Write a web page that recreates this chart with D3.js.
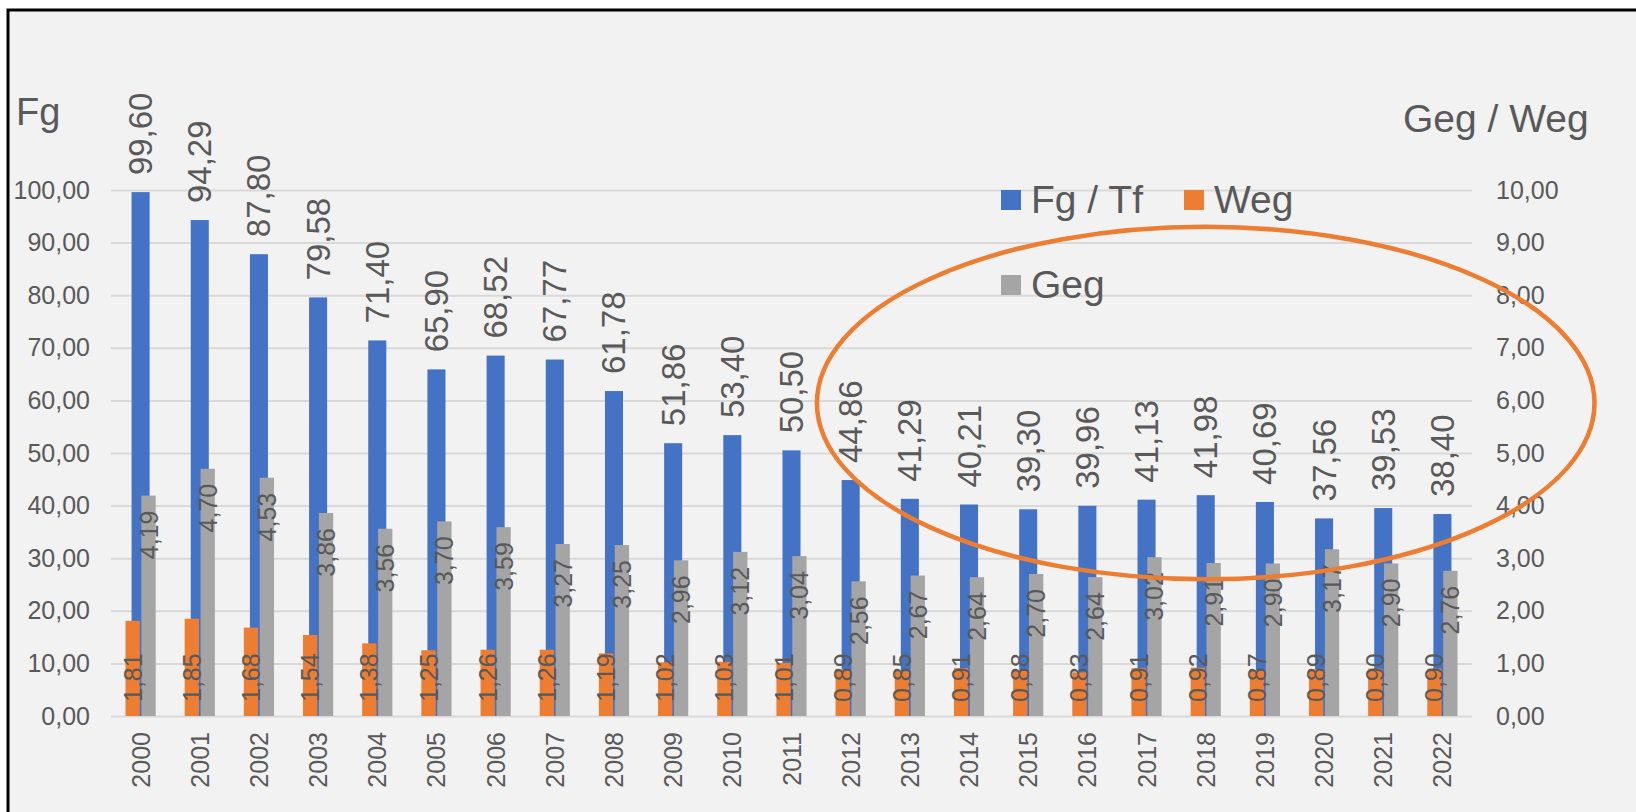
<!DOCTYPE html>
<html>
<head>
<meta charset="utf-8">
<script src="https://cdn.jsdelivr.net/npm/d3@7"></script>
<style>
  html, body { margin: 0; padding: 0; background: #ffffff; overflow: hidden; }
  text { font-family: 'Liberation Sans', Arial, sans-serif; fill: #595959; }
</style>
</head>
<body>
<div id="wrapper"></div>
<script>
// chart data
const years = ['2000', '2001', '2002', '2003', '2004', '2005', '2006', '2007', '2008', '2009', '2010', '2011',
  '2012', '2013', '2014', '2015', '2016', '2017', '2018', '2019', '2020', '2021', '2022']
const fgTf = [99.60, 94.29, 87.80, 79.58, 71.40, 65.90, 68.52, 67.77, 61.78, 51.86, 53.40, 50.50,
  44.86, 41.29, 40.21, 39.30, 39.96, 41.13, 41.98, 40.69, 37.56, 39.53, 38.40]
const weg = [1.81, 1.85, 1.68, 1.54, 1.38, 1.25, 1.26, 1.26, 1.19, 1.02, 1.03, 1.01,
  0.89, 0.85, 0.91, 0.88, 0.83, 0.91, 0.92, 0.87, 0.89, 0.90, 0.90]
const geg = [4.19, 4.70, 4.53, 3.86, 3.56, 3.70, 3.59, 3.27, 3.25, 2.96, 3.12, 3.04,
  2.56, 2.67, 2.64, 2.70, 2.64, 3.02, 2.91, 2.90, 3.17, 2.90, 2.76]
const leftTicks = [0, 10, 20, 30, 40, 50, 60, 70, 80, 90, 100]
const rightTicks = [0, 1, 2, 3, 4, 5, 6, 7, 8, 9, 10]
const legendItems = ['Fg / Tf', 'Weg', 'Geg']

function drawChart() {
  const colors = { fg: '#4472c4', weg: '#ed7d31', geg: '#a5a5a5', grid: '#d9d9d9' }

  let dimensions = {
    width: 1636,
    height: 812,
    margin: { top: 190, right: 164, bottom: 96, left: 111 },
  }
  dimensions.boundedWidth = dimensions.width - dimensions.margin.left - dimensions.margin.right
  dimensions.boundedHeight = dimensions.height - dimensions.margin.top - dimensions.margin.bottom

  // german number format: decimal comma
  const locale = d3.formatLocale({ decimal: ',', thousands: '.', grouping: [3], currency: ['', ' €'] })
  const fmt = locale.format('.2f')

  const wrapper = d3.select('#wrapper')
    .append('svg')
    .attr('width', dimensions.width)
    .attr('height', dimensions.height)

  // frame (black edge only on top and left, the rest is cropped away)
  wrapper.append('rect')
    .attr('x', 8).attr('y', 10)
    .attr('width', dimensions.width + 20).attr('height', dimensions.height + 20)
    .attr('fill', '#f2f2f2')
    .attr('stroke', '#000').attr('stroke-width', 3)

  const bounds = wrapper.append('g')
    .attr('transform', `translate(${dimensions.margin.left}, ${dimensions.margin.top})`)

  const xScale = d3.scaleBand()
    .domain(years)
    .range([0, dimensions.boundedWidth])

  const yScale = d3.scaleLinear()
    .domain([0, 100])
    .range([dimensions.boundedHeight, 0])

  const y2Scale = d3.scaleLinear()
    .domain([0, 10])
    .range([dimensions.boundedHeight, 0])

  const bw = xScale.bandwidth()
  const blueWidth = bw * 0.305
  // secondary series sit side by side around the category centre
  const subScale = d3.scaleBand()
    .domain(['weg', 'geg'])
    .range([-bw * 0.255, bw * 0.255])
    .paddingInner(0.1)
  const center = (i) => xScale(years[i]) + bw / 2

  // gridlines + left axis
  const yAxisGenerator = d3.axisLeft(yScale)
    .tickValues(leftTicks)
    .tickSize(-dimensions.boundedWidth)
    .tickPadding(21)
    .tickFormat(fmt)
  const yAxis = bounds.append('g').call(yAxisGenerator)
  yAxis.select('.domain').remove()
  yAxis.selectAll('line').attr('stroke', colors.grid).attr('stroke-width', 2)
  yAxis.selectAll('text').attr('font-size', 25).style('fill', '#595959')

  // right axis
  const y2AxisGenerator = d3.axisRight(y2Scale)
    .tickValues(rightTicks)
    .tickSize(0)
    .tickPadding(24)
    .tickFormat(fmt)
  const y2Axis = bounds.append('g')
    .attr('transform', `translate(${dimensions.boundedWidth}, 0)`)
    .call(y2AxisGenerator)
  y2Axis.select('.domain').remove()
  y2Axis.selectAll('text').attr('font-size', 25).style('fill', '#595959')

  // x axis labels (rotated years)
  bounds.append('g').selectAll('text')
    .data(years)
    .join('text')
    .attr('transform', (d) => `translate(${xScale(d) + bw / 2}, ${dimensions.boundedHeight + 16}) rotate(-90)`)
    .attr('text-anchor', 'end')
    .attr('dominant-baseline', 'central')
    .attr('font-size', 25)
    .text((d) => d)

  // primary bars
  bounds.append('g').selectAll('rect')
    .data(fgTf)
    .join('rect')
    .attr('x', (d, i) => center(i) - blueWidth / 2)
    .attr('y', (d) => yScale(d))
    .attr('width', blueWidth)
    .attr('height', (d) => dimensions.boundedHeight - yScale(d))
    .attr('fill', colors.fg)

  // secondary bars
  bounds.append('g').selectAll('rect')
    .data(weg)
    .join('rect')
    .attr('x', (d, i) => center(i) + subScale('weg'))
    .attr('y', (d) => y2Scale(d))
    .attr('width', subScale.bandwidth())
    .attr('height', (d) => dimensions.boundedHeight - y2Scale(d))
    .attr('fill', colors.weg)

  bounds.append('g').selectAll('rect')
    .data(geg)
    .join('rect')
    .attr('x', (d, i) => center(i) + subScale('geg'))
    .attr('y', (d) => y2Scale(d))
    .attr('width', subScale.bandwidth())
    .attr('height', (d) => dimensions.boundedHeight - y2Scale(d))
    .attr('fill', colors.geg)

  // value labels: blue outside end
  bounds.append('g').selectAll('text')
    .data(fgTf)
    .join('text')
    .attr('transform', (d, i) => `translate(${center(i)}, ${yScale(d) - 17}) rotate(-90)`)
    .attr('text-anchor', 'start')
    .attr('dominant-baseline', 'central')
    .attr('font-size', 33)
    .text((d) => fmt(d))

  // orange: inside base
  bounds.append('g').selectAll('text')
    .data(weg)
    .join('text')
    .attr('transform', (d, i) => `translate(${center(i) + subScale('weg') + subScale.bandwidth() / 2}, ${dimensions.boundedHeight - 14}) rotate(-90)`)
    .attr('text-anchor', 'start')
    .attr('dominant-baseline', 'central')
    .attr('font-size', 25)
    .text((d) => fmt(d))

  // grey: inside end
  bounds.append('g').selectAll('text')
    .data(geg)
    .join('text')
    .attr('transform', (d, i) => `translate(${center(i) + subScale('geg') + subScale.bandwidth() / 2}, ${y2Scale(d) + 15}) rotate(-90)`)
    .attr('text-anchor', 'end')
    .attr('dominant-baseline', 'central')
    .attr('font-size', 25)
    .text((d) => fmt(d))

  // axis titles
  wrapper.append('text')
    .attr('x', 16).attr('y', 125)
    .attr('font-size', 38)
    .text('Fg')
  wrapper.append('text')
    .attr('x', 1403).attr('y', 132)
    .attr('font-size', 39)
    .text('Geg / Weg')

  // legend
  const legendPos = [
    { x: 1001, y: 190 },
    { x: 1184, y: 190 },
    { x: 1001, y: 275 },
  ]
  const legendColors = [colors.fg, colors.weg, colors.geg]
  const legend = wrapper.append('g').selectAll('g')
    .data(legendItems)
    .join('g')
    .attr('transform', (d, i) => `translate(${legendPos[i].x}, ${legendPos[i].y})`)
  legend.append('rect')
    .attr('width', 20).attr('height', 20)
    .attr('fill', (d, i) => legendColors[i])
  legend.append('text')
    .attr('x', 30).attr('y', 23)
    .attr('font-size', 39)
    .text((d) => d)

  // highlight ellipse around the recent years
  bounds.append('ellipse')
    .attr('cx', center(years.indexOf('2018')))
    .attr('cy', yScale(59.5))
    .attr('rx', xScale.step() * 6.57)
    .attr('ry', yScale(0) - yScale(33.5))
    .attr('fill', 'none')
    .attr('stroke', colors.weg)
    .attr('stroke-width', 4.5)
}

drawChart()
</script>
</body>
</html>
